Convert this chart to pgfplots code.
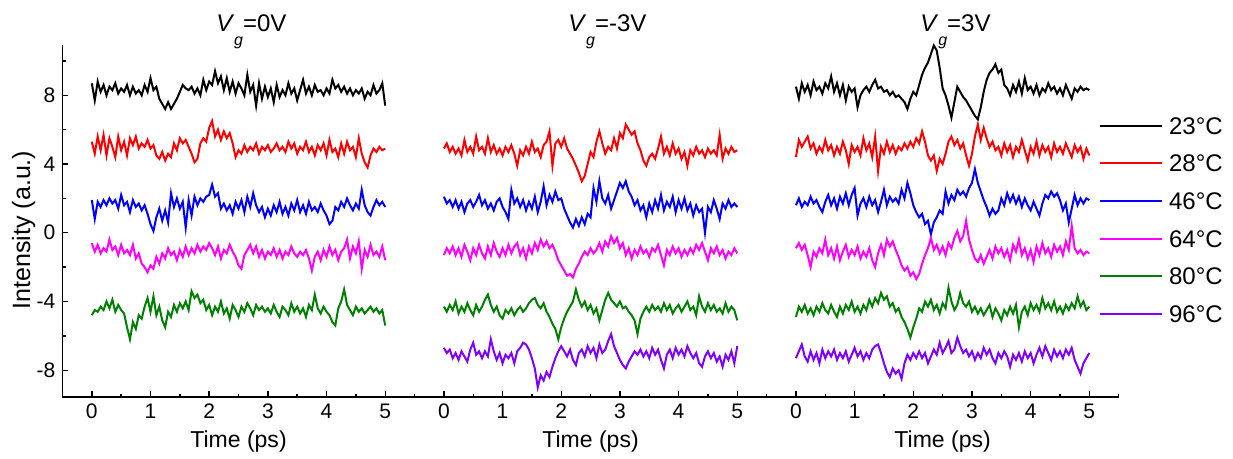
\documentclass[border=0pt]{standalone}
\usepackage{fontspec}
\setmainfont{Liberation Sans}
\usepackage{pgfplots}
\usepackage{pgfplotstable}
\pgfplotsset{compat=1.18}
\definecolor{cpurple}{RGB}{128,0,255}
\definecolor{cgreen}{RGB}{0,128,0}
\definecolor{cmag}{RGB}{255,0,255}
\definecolor{cred}{RGB}{255,0,0}
\definecolor{cblue}{RGB}{0,0,255}

% Vg = 0 V
\pgfplotstableread{
t    k    r    b    m    g
0.00 8.7 5.3 1.9 -0.6 -4.8
0.05 7.7 4.6 0.8 -1.1 -4.5
0.10 8.8 5.6 1.8 -0.7 -4.6
0.15 8.2 4.8 1.5 -1.2 -4.3
0.20 8.6 5.7 1.9 -0.9 -4.5
0.25 8.0 4.5 1.6 -1.1 -4.0
0.30 8.5 5.5 2.0 -0.4 -4.4
0.35 8.3 5.0 1.7 -1.0 -3.9
0.40 8.7 4.4 1.9 -0.8 -4.6
0.45 8.1 5.6 1.4 -1.3 -4.2
0.50 8.4 4.8 2.2 -0.7 -4.5
0.55 8.2 5.3 1.6 -1.2 -4.7
0.60 8.6 4.5 1.8 -1.0 -5.5
0.65 8.0 5.5 1.2 -1.3 -6.2
0.70 8.5 5.1 1.9 -0.7 -5.2
0.75 8.1 5.6 1.5 -1.5 -5.6
0.80 8.3 4.9 1.7 -1.2 -4.8
0.85 8.0 5.2 1.3 -1.8 -5.0
0.90 8.6 5.0 1.6 -2.0 -4.3
0.95 8.2 5.4 1.1 -2.3 -3.8
1.00 9.0 4.9 0.5 -1.9 -4.6
1.05 8.3 5.1 0.1 -2.1 -3.7
1.10 8.5 4.5 0.9 -1.4 -4.8
1.15 7.8 4.3 1.4 -1.8 -4.3
1.20 7.5 4.7 0.7 -1.2 -5.1
1.25 7.2 4.2 1.3 -1.5 -5.5
1.30 7.6 4.6 0.6 -0.9 -4.6
1.35 7.2 4.4 2.3 -1.3 -4.9
1.40 7.5 5.2 1.5 -1.1 -4.2
1.45 7.8 4.8 2.0 -1.6 -4.6
1.50 8.2 5.5 1.4 -1.0 -4.1
1.55 8.6 5.2 1.8 -1.4 -4.4
1.60 8.4 5.4 0.3 -0.8 -4.0
1.65 8.3 5.0 1.9 -1.3 -4.5
1.70 8.5 4.6 1.0 -0.9 -3.4
1.75 8.1 4.1 2.1 -1.2 -3.8
1.80 8.4 4.3 1.6 -0.7 -3.6
1.85 8.0 5.2 2.0 -1.1 -4.1
1.90 8.9 5.5 1.8 -0.8 -3.9
1.95 8.3 5.3 2.1 -1.0 -4.5
2.00 8.8 6.1 2.2 -0.6 -4.2
2.05 8.6 6.5 2.8 -0.9 -4.8
2.10 9.4 5.6 2.1 -1.3 -4.3
2.15 8.7 6.0 2.3 -0.8 -4.6
2.20 9.1 5.4 1.4 -1.5 -4.0
2.25 8.3 5.9 1.7 -1.0 -4.7
2.30 9.0 5.5 1.3 -1.2 -4.4
2.35 8.2 5.8 1.6 -0.7 -5.0
2.40 8.8 5.2 1.1 -1.1 -4.2
2.45 8.1 4.4 1.8 -1.4 -4.5
2.50 8.7 4.8 1.4 -1.9 -4.9
2.55 8.4 4.6 1.9 -2.1 -4.3
2.60 8.0 5.1 1.2 -1.3 -4.6
2.65 9.2 4.7 2.1 -1.0 -4.1
2.70 8.2 5.0 1.5 -0.7 -4.4
2.75 8.6 4.8 2.3 -1.2 -4.8
2.80 7.4 5.2 1.6 -0.8 -4.2
2.85 8.7 4.6 1.2 -1.4 -4.5
2.90 7.8 5.0 1.5 -1.0 -4.3
2.95 8.5 4.8 0.9 -1.5 -4.6
3.00 7.9 5.1 1.4 -1.1 -4.4
3.05 8.4 4.7 1.0 -1.3 -4.7
3.10 7.6 4.9 1.6 -0.9 -4.2
3.15 8.6 5.2 1.2 -1.4 -4.6
3.20 7.9 4.8 1.8 -1.0 -4.9
3.25 8.3 5.0 1.1 -1.5 -4.3
3.30 8.0 4.7 1.5 -1.1 -4.5
3.35 8.7 5.3 1.0 -1.3 -4.8
3.40 8.1 4.9 1.7 -0.8 -4.1
3.45 8.4 5.2 1.3 -1.2 -4.6
3.50 7.7 4.6 1.9 -1.4 -4.3
3.55 8.3 5.0 1.2 -1.1 -4.7
3.60 8.9 4.8 1.6 -1.3 -4.4
3.65 8.1 5.3 1.1 -1.0 -4.9
3.70 8.5 4.7 1.8 -1.5 -4.2
3.75 8.0 5.0 1.3 -2.2 -4.5
3.80 8.6 4.5 1.5 -1.4 -3.6
3.85 8.2 5.1 1.2 -1.1 -4.4
3.90 8.3 4.8 1.7 -1.6 -4.7
3.95 8.0 5.2 1.3 -1.0 -4.3
4.00 8.4 4.5 1.0 -1.4 -4.6
4.05 8.1 5.4 0.5 -0.8 -4.8
4.10 8.9 4.7 0.7 -1.3 -5.2
4.15 8.4 4.9 1.5 -1.0 -5.4
4.20 8.6 4.4 1.3 -1.6 -4.4
4.25 8.2 5.2 1.8 -1.1 -4.0
4.30 8.5 4.6 1.5 -0.9 -3.3
4.35 8.1 5.3 2.0 -0.4 -4.2
4.40 8.4 4.8 1.6 -1.5 -4.5
4.45 8.0 5.0 1.3 -0.8 -4.8
4.50 8.3 4.4 1.7 -1.2 -4.3
4.55 8.1 5.5 1.4 -0.5 -4.6
4.60 8.4 4.6 2.5 -2.1 -4.4
4.65 7.8 4.1 1.6 -1.0 -4.7
4.70 8.2 3.8 1.2 -1.4 -4.5
4.75 8.0 4.5 1.0 -0.7 -4.3
4.80 8.6 4.9 1.5 -1.3 -4.6
4.85 8.1 4.7 1.9 -1.1 -4.4
4.90 8.3 5.0 1.6 -1.4 -4.7
4.95 8.7 4.8 1.8 -0.8 -4.5
5.00 7.4 4.9 1.5 -1.6 -5.4
}\pone

% Vg = -3 V
\pgfplotstableread{
t    r    b    m    g    v
0.00 4.9 2.1 -1.3 -4.3 -6.7
0.05 5.2 1.7 -0.9 -4.6 -7.0
0.10 4.7 1.9 -1.2 -4.2 -6.8
0.15 5.0 1.5 -0.8 -4.5 -7.3
0.20 4.6 1.9 -1.3 -4.0 -7.0
0.25 4.9 1.4 -0.9 -4.7 -7.4
0.30 4.5 1.8 -1.4 -4.3 -6.9
0.35 5.4 1.2 -0.7 -4.6 -7.2
0.40 4.7 1.7 -1.1 -4.1 -7.5
0.45 5.0 1.9 -1.6 -4.5 -6.8
0.50 4.6 1.5 -0.9 -4.8 -6.4
0.55 5.6 1.8 -1.3 -4.2 -7.1
0.60 4.8 2.2 -0.7 -4.6 -6.9
0.65 5.0 1.6 -1.2 -4.3 -7.3
0.70 4.6 1.9 -1.5 -3.9 -6.9
0.75 5.5 1.4 -0.8 -3.6 -7.2
0.80 4.7 1.7 -1.3 -4.2 -6.2
0.85 5.1 1.3 -0.6 -4.6 -6.9
0.90 4.6 1.8 -1.1 -4.3 -7.4
0.95 4.9 2.0 -1.4 -4.8 -7.0
1.00 4.5 1.5 -0.9 -5.0 -7.6
1.05 5.0 1.2 -1.3 -4.5 -7.1
1.10 4.7 0.8 -0.7 -4.7 -7.3
1.15 5.1 2.5 -1.2 -4.4 -7.0
1.20 4.6 1.7 -0.8 -4.8 -7.6
1.25 3.9 2.0 -0.6 -4.5 -6.9
1.30 4.8 1.5 -1.3 -4.3 -6.7
1.35 4.5 1.9 -0.9 -4.6 -6.4
1.40 5.0 1.3 -1.5 -4.4 -6.5
1.45 4.6 1.8 -0.8 -4.1 -6.8
1.50 5.3 1.4 -1.2 -3.9 -7.3
1.55 4.7 2.1 -0.6 -3.8 -7.9
1.60 4.9 1.2 -1.0 -4.2 -9.0
1.65 4.4 1.8 -0.4 -4.4 -8.3
1.70 5.1 2.7 -0.8 -4.1 -8.6
1.75 5.3 1.6 -0.5 -4.6 -8.1
1.80 5.9 2.2 -0.9 -4.9 -8.4
1.85 3.9 1.8 -0.7 -5.3 -7.8
1.90 5.2 2.4 -1.1 -5.6 -7.3
1.95 5.4 1.9 -1.6 -6.2 -6.9
2.00 5.0 2.0 -1.9 -5.5 -6.6
2.05 5.5 1.4 -2.2 -5.0 -6.9
2.10 4.9 1.0 -2.5 -4.6 -7.2
2.15 4.6 0.6 -2.4 -4.3 -6.8
2.20 4.3 0.3 -2.6 -4.0 -7.4
2.25 3.9 0.8 -2.1 -3.3 -7.7
2.30 3.5 0.4 -1.8 -3.9 -7.0
2.35 3.0 0.9 -1.4 -4.3 -6.8
2.40 3.3 0.5 -1.1 -4.0 -7.2
2.45 4.0 1.1 -1.3 -4.5 -6.6
2.50 4.7 0.9 -0.9 -4.2 -7.0
2.55 4.4 2.6 -1.2 -4.7 -6.7
2.60 5.3 1.8 -1.0 -4.4 -7.3
2.65 5.9 3.0 -0.6 -5.1 -6.5
2.70 5.2 2.0 -1.1 -4.5 -7.0
2.75 4.6 1.7 -0.5 -3.9 -6.8
2.80 5.0 2.2 -0.8 -3.5 -6.3
2.85 4.8 1.4 -0.2 -3.9 -5.9
2.90 5.5 1.9 -0.6 -4.1 -6.6
2.95 4.9 2.4 -0.3 -4.3 -7.0
3.00 5.8 2.9 -0.9 -4.0 -7.4
3.05 5.5 2.6 -0.6 -4.4 -7.7
3.10 6.3 3.0 -1.3 -4.3 -7.9
3.15 6.0 2.4 -0.9 -4.6 -7.5
3.20 5.7 2.1 -1.5 -4.8 -7.2
3.25 5.9 1.6 -1.0 -5.1 -6.9
3.30 5.2 1.9 -1.3 -5.9 -7.1
3.35 4.8 1.3 -0.8 -5.0 -6.8
3.40 4.2 1.6 -1.2 -4.6 -7.2
3.45 3.9 0.9 -1.0 -4.3 -6.9
3.50 4.4 1.7 -1.4 -4.6 -7.3
3.55 4.6 1.2 -0.9 -4.2 -6.7
3.60 4.3 1.9 -1.1 -4.5 -7.1
3.65 4.9 1.4 -0.7 -4.3 -6.8
3.70 5.6 2.2 -1.3 -4.6 -7.4
3.75 4.6 1.3 -1.9 -4.1 -7.9
3.80 5.0 1.8 -1.0 -4.5 -7.1
3.85 4.5 1.5 -1.3 -4.2 -6.8
3.90 5.2 2.1 -0.8 -4.7 -7.3
3.95 4.6 1.2 -1.2 -4.4 -6.7
4.00 4.9 1.9 -0.9 -4.2 -7.1
4.05 4.3 1.4 -1.4 -4.6 -6.8
4.10 4.7 2.0 -1.0 -4.3 -7.2
4.15 3.9 1.3 -1.3 -4.0 -6.6
4.20 4.8 1.7 -0.9 -4.5 -7.0
4.25 4.5 1.0 -1.2 -4.3 -7.3
4.30 5.0 1.6 -0.7 -4.8 -7.0
4.35 4.6 1.2 -1.0 -3.7 -7.6
4.40 4.8 1.4 -0.6 -4.3 -7.8
4.45 4.4 0.0 -1.1 -4.6 -7.2
4.50 4.9 1.5 -1.6 -4.1 -6.9
4.55 4.6 1.2 -0.9 -4.5 -7.3
4.60 4.8 1.9 -1.2 -4.2 -7.0
4.65 4.5 1.4 -0.8 -4.6 -7.5
4.70 5.7 0.8 -1.3 -4.4 -7.2
4.75 4.3 1.7 -1.0 -4.7 -7.8
4.80 4.9 1.4 -1.5 -4.1 -7.1
4.85 4.6 1.9 -1.1 -4.6 -7.4
4.90 5.0 1.5 -1.3 -4.3 -6.9
4.95 4.7 1.7 -0.9 -4.5 -7.6
5.00 4.8 1.5 -1.2 -5.1 -6.6
}\ptwo

% Vg = 3 V
\pgfplotstableread{
t    k    r    b    m    g    v
0.00 8.5 4.4 1.6 -0.9 -4.9 -7.3
0.05 7.8 5.4 2.0 -0.6 -4.3 -6.9
0.10 8.7 5.0 1.5 -1.0 -4.6 -6.5
0.15 8.2 5.3 1.8 -0.7 -4.2 -7.2
0.20 8.6 5.6 1.6 -1.3 -4.7 -7.5
0.25 8.0 4.9 2.1 -2.0 -4.4 -6.9
0.30 8.8 5.2 1.7 -1.1 -4.8 -7.4
0.35 8.3 4.6 1.9 -1.4 -4.3 -7.0
0.40 8.5 5.0 1.5 -0.9 -4.6 -7.6
0.45 8.1 4.7 1.2 -1.2 -4.1 -6.8
0.50 8.7 5.4 1.8 -0.4 -4.5 -7.3
0.55 8.4 4.8 2.2 -1.3 -4.7 -6.9
0.60 9.1 5.1 1.6 -0.9 -4.2 -7.2
0.65 8.2 4.5 2.0 -1.5 -4.6 -6.8
0.70 8.7 5.0 1.4 -0.8 -4.9 -7.4
0.75 8.0 4.6 2.1 -1.6 -4.3 -7.0
0.80 8.6 5.3 1.7 -1.1 -4.7 -7.3
0.85 7.7 4.8 2.3 -0.7 -4.2 -6.9
0.90 8.5 4.0 1.6 -1.4 -4.5 -7.5
0.95 8.2 5.1 2.2 -1.0 -4.0 -7.1
1.00 8.4 4.7 2.6 -1.3 -4.6 -6.7
1.05 7.3 5.0 1.0 -0.8 -4.3 -7.2
1.10 8.0 4.5 1.7 -1.5 -4.7 -6.9
1.15 8.3 5.5 2.0 -1.1 -4.2 -7.4
1.20 8.5 4.8 1.5 -1.4 -4.5 -7.0
1.25 8.2 5.2 2.1 -0.9 -3.9 -7.3
1.30 8.6 4.4 1.6 -1.6 -4.3 -6.8
1.35 8.9 5.6 1.9 -2.0 -3.8 -6.6
1.40 8.4 3.6 1.2 -1.2 -4.1 -6.5
1.45 8.5 5.0 1.8 -0.7 -3.5 -7.0
1.50 8.2 4.6 2.5 -1.3 -3.9 -7.6
1.55 8.3 5.3 1.6 -0.4 -3.7 -8.1
1.60 8.0 4.7 2.1 -0.8 -4.3 -8.4
1.65 8.2 5.1 1.8 -0.5 -4.1 -7.9
1.70 7.9 4.6 2.0 -1.0 -4.6 -8.2
1.75 8.0 5.0 1.7 -1.4 -4.4 -8.0
1.80 7.8 4.8 2.5 -1.9 -4.9 -8.5
1.85 7.6 5.2 2.0 -2.2 -5.2 -7.6
1.90 7.2 4.9 2.9 -2.0 -5.6 -7.1
1.95 7.8 5.3 2.3 -2.5 -6.1 -7.4
2.00 8.2 5.0 1.6 -2.3 -5.5 -7.0
2.05 8.0 5.5 1.2 -2.7 -5.0 -7.3
2.10 8.6 5.2 0.9 -2.4 -4.4 -6.9
2.15 9.2 5.9 1.1 -1.8 -4.6 -7.3
2.20 9.6 5.3 0.5 -1.3 -4.0 -7.0
2.25 9.9 4.5 0.7 -0.9 -4.3 -7.6
2.30 10.4 4.2 -0.1 -0.3 -3.9 -7.2
2.35 10.9 4.5 0.6 -1.0 -4.5 -6.8
2.40 10.6 3.6 0.9 -0.7 -4.2 -7.1
2.45 9.6 4.3 1.3 -1.2 -4.7 -6.4
2.50 8.4 4.0 1.1 -0.8 -4.1 -7.0
2.55 8.0 4.6 2.4 -1.3 -4.4 -6.7
2.60 7.4 5.3 1.7 -0.6 -3.2 -6.3
2.65 6.7 5.6 2.2 -0.9 -4.0 -7.0
2.70 7.6 5.1 1.9 -0.3 -4.5 -6.8
2.75 8.5 5.4 2.5 0.1 -4.2 -6.1
2.80 8.2 4.9 2.2 -0.5 -3.5 -6.6
2.85 7.9 5.2 2.4 -0.2 -4.1 -7.0
2.90 7.7 4.5 2.1 0.7 -4.3 -6.8
2.95 7.4 3.9 2.6 -0.4 -4.0 -7.2
3.00 7.1 4.6 2.9 -1.0 -4.6 -6.9
3.05 6.8 5.6 3.7 -1.5 -4.3 -7.4
3.10 6.6 6.3 2.9 -1.7 -4.7 -7.0
3.15 7.3 5.4 2.4 -1.3 -4.4 -7.3
3.20 8.2 6.1 1.9 -1.8 -4.8 -6.7
3.25 8.9 5.5 1.5 -1.4 -4.5 -7.1
3.30 9.3 5.0 1.0 -1.0 -4.2 -6.8
3.35 9.5 5.3 1.4 -1.5 -4.9 -7.3
3.40 9.8 4.8 1.1 -0.8 -4.4 -7.6
3.45 9.3 5.0 1.3 -1.2 -4.7 -7.0
3.50 9.5 4.5 2.0 -0.9 -5.1 -7.3
3.55 8.6 5.2 1.6 -1.4 -4.5 -6.9
3.60 8.4 4.7 2.3 -1.0 -4.8 -7.2
3.65 8.0 5.1 1.8 -1.6 -4.3 -7.8
3.70 8.6 4.4 2.2 -0.7 -4.7 -7.1
3.75 8.2 5.0 1.7 -1.1 -4.2 -7.4
3.80 8.8 4.7 2.1 -0.4 -5.5 -7.0
3.85 8.1 5.4 1.5 -1.3 -4.6 -7.5
3.90 9.0 4.8 2.0 -0.9 -4.3 -6.9
3.95 8.3 4.2 1.6 -1.5 -4.8 -7.3
4.00 8.5 5.0 1.3 -1.0 -4.1 -7.0
4.05 8.1 4.6 1.8 -1.7 -4.5 -7.6
4.10 8.6 5.3 1.4 -0.8 -4.2 -7.1
4.15 8.0 4.5 1.0 -1.3 -4.6 -6.7
4.20 8.4 5.1 1.7 -0.6 -3.8 -7.2
4.25 8.2 4.7 2.2 -1.2 -4.4 -6.6
4.30 8.7 5.0 2.0 -0.9 -4.1 -7.0
4.35 8.3 4.4 2.4 -1.4 -4.5 -7.4
4.40 8.5 5.2 2.1 -0.7 -4.0 -6.8
4.45 8.1 4.7 2.3 -1.1 -4.6 -7.2
4.50 8.4 5.0 1.9 -0.8 -4.3 -6.9
4.55 8.0 4.6 1.3 -1.3 -4.7 -7.3
4.60 8.6 5.2 1.7 -0.5 -4.2 -6.8
4.65 8.2 4.8 0.6 -1.0 -4.5 -7.1
4.70 7.8 4.4 1.4 0.4 -4.1 -6.7
4.75 8.4 5.1 2.2 -0.9 -4.4 -7.4
4.80 8.2 4.7 1.6 -1.2 -3.7 -7.8
4.85 8.5 5.0 2.0 -1.0 -4.3 -8.2
4.90 8.3 4.3 1.7 -1.3 -4.0 -7.6
4.95 8.4 4.9 2.0 -1.1 -4.5 -7.3
5.00 8.3 4.5 1.9 -1.2 -4.3 -7.0
}\pthree

\begin{document}
\begin{tikzpicture}
\begin{axis}[
    scale only axis, width=527.5pt, height=175.5pt,
    xmin=-0.5, xmax=17.5, ymin=-9.55, ymax=10.9,
    axis x line*=bottom, axis y line*=left,
    axis line style={-, line width=0.8pt},
    x axis line style={-}, y axis line style={-},
    tick align=inside, major tick length=3pt, minor tick length=1.6pt,
    every tick/.style={black, line width=0.7pt},
    xtick={0,...,17},
    xticklabels={0,1,2,3,4,5,0,1,2,3,4,5,0,1,2,3,4,5},
    minor xtick={-0.5,0.5,...,17.5},
    ytick={-8,-4,0,4,8}, yticklabels={-8,-4,0,4,8},
    minor ytick={-6,-2,2,6,10},
    tick label style={font=\fontsize{10.5}{12}\selectfont},
    clip=false,
    legend cell align=left,
    legend style={at={(0.981,0.796)}, anchor=north west, draw=none, fill=none,
        inner sep=0pt, row sep=10.5pt, font=\fontsize{12}{13}\selectfont,
        nodes={inner sep=0pt, text height=8.3pt, text depth=0pt},
        /tikz/every odd column/.append style={column sep=3pt}},
    legend image code/.code={\draw[#1] (0pt,0pt) -- (31pt,0pt);},
]
% Vg = 3 V (carries the legend)
\addplot[black, line width=1pt] table[x expr=\thisrow{t}+12, y=k] {\pthree};
\addlegendentry{23°C}
\addplot[cred, line width=1pt] table[x expr=\thisrow{t}+12, y=r] {\pthree};
\addlegendentry{28°C}
\addplot[cblue, line width=1pt] table[x expr=\thisrow{t}+12, y=b] {\pthree};
\addlegendentry{46°C}
\addplot[cmag, line width=1pt] table[x expr=\thisrow{t}+12, y=m] {\pthree};
\addlegendentry{64°C}
\addplot[cgreen, line width=1pt] table[x expr=\thisrow{t}+12, y=g] {\pthree};
\addlegendentry{80°C}
\addplot[cpurple, line width=1pt] table[x expr=\thisrow{t}+12, y=v] {\pthree};
\addlegendentry{96°C}
% Vg = 0 V
\addplot[black, line width=1pt, forget plot] table[x=t, y=k] {\pone};
\addplot[cred, line width=1pt, forget plot] table[x=t, y=r] {\pone};
\addplot[cblue, line width=1pt, forget plot] table[x=t, y=b] {\pone};
\addplot[cmag, line width=1pt, forget plot] table[x=t, y=m] {\pone};
\addplot[cgreen, line width=1pt, forget plot] table[x=t, y=g] {\pone};
% Vg = -3 V
\addplot[cred, line width=1pt, forget plot] table[x expr=\thisrow{t}+6, y=r] {\ptwo};
\addplot[cblue, line width=1pt, forget plot] table[x expr=\thisrow{t}+6, y=b] {\ptwo};
\addplot[cmag, line width=1pt, forget plot] table[x expr=\thisrow{t}+6, y=m] {\ptwo};
\addplot[cgreen, line width=1pt, forget plot] table[x expr=\thisrow{t}+6, y=g] {\ptwo};
\addplot[cpurple, line width=1pt, forget plot] table[x expr=\thisrow{t}+6, y=v] {\ptwo};

% panel titles
\node[anchor=base west, font=\fontsize{12}{14}\selectfont] at (axis cs:2,11.7)
    {\textit{V}\raisebox{-1.1ex}{\footnotesize\textit{g}}=0V};
\node[anchor=base west, font=\fontsize{12}{14}\selectfont] at (axis cs:8,11.7)
    {\textit{V}\raisebox{-1.1ex}{\footnotesize\textit{g}}=-3V};
\node[anchor=base west, font=\fontsize{12}{14}\selectfont] at (axis cs:14,11.7)
    {\textit{V}\raisebox{-1.1ex}{\footnotesize\textit{g}}=3V};
% x labels
\node[anchor=base, font=\fontsize{11.5}{13}\selectfont] at (axis cs:2.5,-12.5) {Time (ps)};
\node[anchor=base, font=\fontsize{11.5}{13}\selectfont] at (axis cs:8.5,-12.5) {Time (ps)};
\node[anchor=base, font=\fontsize{11.5}{13}\selectfont] at (axis cs:14.5,-12.5) {Time (ps)};
% y label
\node[rotate=90, anchor=center, font=\fontsize{12.5}{14}\selectfont] at (axis cs:-1.16,0.16) {Intensity (a.u.)};
% page frame of the reference
\path (axis cs:-1.565,13.545) rectangle (axis cs:19.449,-13.16);
\end{axis}
\end{tikzpicture}
\end{document}
